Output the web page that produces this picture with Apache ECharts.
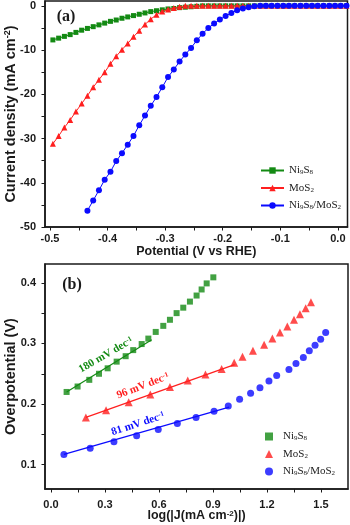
<!DOCTYPE html>
<html>
<head>
<meta charset="utf-8">
<title>LSV and Tafel</title>
<script src="https://cdn.jsdelivr.net/npm/echarts@6/dist/echarts.min.js"></script>
<style>
  html, body { margin: 0; padding: 0; background: #fff; }
  #main { width: 350px; height: 525px; }
</style>
</head>
<body>
<div id="main"></div>
<script>
// ---- (a) polarization curves ----
var lsvPotential = [-0.495,-0.485,-0.475,-0.465,-0.455,-0.445,-0.435,-0.425,-0.415,-0.405,
  -0.395,-0.385,-0.375,-0.365,-0.355,-0.345,-0.335,-0.325,-0.315,-0.305,
  -0.295,-0.285,-0.275,-0.265,-0.255,-0.245,-0.235,-0.225,-0.215,-0.205,
  -0.195,-0.185,-0.175,-0.165,-0.155,-0.145,-0.135,-0.125,-0.115,-0.105,
  -0.095,-0.085,-0.075,-0.065,-0.055,-0.045,-0.035,-0.025,-0.015,-0.005,0.005,0.015];
var ni9s8Current = [-7.7,-7.3,-6.9,-6.5,-6.0,-5.5,-5.1,-4.7,-4.3,-3.9,
  -3.5,-3.2,-2.8,-2.5,-2.2,-1.9,-1.6,-1.3,-1.1,-0.9,
  -0.7,-0.6,-0.4,-0.3,-0.2,-0.1,0,0,0,0,
  0,0,0,0,0,0,0,0,0,0,
  0,0,0,0,0,0,0,0,0,0,0,0];
var mos2Current = [-31.2,-29.4,-27.5,-25.8,-23.9,-22.1,-20.3,-18.4,-16.7,-15.0,
  -13.1,-11.4,-9.9,-8.5,-7.0,-5.6,-4.2,-3.0,-2.0,-1.3,
  -0.8,-0.5,-0.2,0,0,0,0,0,0,0,
  0,0,0,0,0,0,0,0,0,0,
  0,0,0,0,0,0,0,0,0,0,0,0];
var hybridPotential = [-0.435,-0.425,-0.415,-0.405,-0.395,-0.385,-0.375,-0.365,-0.355,-0.345,
  -0.335,-0.325,-0.315,-0.305,-0.295,-0.285,-0.275,-0.265,-0.255,-0.245,
  -0.235,-0.225,-0.215,-0.205,-0.195,-0.185,-0.175,-0.165,-0.155,-0.145,
  -0.135,-0.125,-0.115,-0.105,-0.095,-0.085,-0.075,-0.065,-0.055,-0.045,
  -0.035,-0.025,-0.015,-0.005,0.005,0.015];
var hybridCurrent = [-46.3,-44.0,-41.7,-39.3,-37.5,-35.1,-33.3,-31.4,-29.4,-27.0,
  -24.8,-22.6,-20.6,-18.4,-16.1,-14.4,-12.6,-11.0,-9.5,-7.8,
  -6.3,-5.0,-4.0,-3.1,-2.3,-1.6,-1.0,-0.6,-0.3,-0.1,
  0,0,0,0,0,0,0,0,0,0,
  0,0,0,0,0,0];

var potentialTicks = [-0.5,-0.45,-0.4,-0.35,-0.3,-0.25,-0.2,-0.15,-0.1,-0.05,0];
var potentialLabels = [-0.5,-0.4,-0.3,-0.2,-0.1,0];
var currentTicks = [-50,-45,-40,-35,-30,-25,-20,-15,-10,-5,0];
var currentLabels = [-50,-40,-30,-20,-10,0];

// ---- (b) Tafel plots ----
var ni9s8LogJ = [0.087,0.148,0.213,0.267,0.315,0.365,0.415,0.457,0.504,0.541,
  0.582,0.624,0.661,0.698,0.735,0.772,0.809,0.837,0.865,0.902];
var ni9s8Eta = [0.220,0.229,0.240,0.250,0.259,0.270,0.279,0.289,0.299,0.308,
  0.319,0.329,0.339,0.350,0.359,0.369,0.379,0.389,0.399,0.409];
var mos2LogJ = [0.194,0.306,0.432,0.552,0.661,0.760,0.858,0.948,1.018,1.064,
  1.122,1.184,1.230,1.272,1.313,1.350,1.383,1.415,1.444];
var mos2Eta = [0.178,0.190,0.203,0.216,0.228,0.239,0.249,0.258,0.268,0.278,
  0.288,0.298,0.308,0.318,0.328,0.339,0.348,0.358,0.368];
var hybridLogJ = [0.072,0.218,0.350,0.476,0.596,0.702,0.806,0.906,0.985,1.048,
  1.109,1.161,1.211,1.254,1.322,1.361,1.402,1.435,1.467,1.498,1.526];
var hybridEta = [0.117,0.127,0.138,0.148,0.158,0.168,0.178,0.188,0.197,0.208,
  0.218,0.227,0.238,0.247,0.257,0.267,0.277,0.288,0.297,0.307,0.318];

// linear fits (end points)
var ni9s8Fit = [[0.087,0.220],[0.560,0.306]];
var mos2Fit = [[0.194,0.178],[1.020,0.265]];
var hybridFit = [[0.072,0.117],[0.990,0.195]];

var logTicks = [0,0.15,0.3,0.45,0.6,0.75,0.9,1.05,1.2,1.35,1.5];
var logLabels = [0,0.3,0.6,0.9,1.2,1.5];
var etaTicks = [0.1,0.15,0.2,0.25,0.3,0.35,0.4];
var etaLabels = [0.1,0.2,0.3,0.4];

var GREEN = '#138a13', RED = '#ff1f1f', BLUE = '#0b0bff', INK = '#1a1a1a';
var SANS = "'Liberation Sans', Arial, sans-serif";
var SERIF = "'Liberation Serif', 'Times New Roman', serif";

function zip(xs, ys) {
  return xs.map(function (x, i) { return [x, ys[i]]; });
}

function makeAxis(o) {
  var fs = o.nameSize || 12;
  return {
    type: 'value', gridIndex: o.grid, min: o.min, max: o.max,
    name: o.name, nameLocation: 'middle', nameGap: o.nameGap,
    nameRotate: o.rotate, nameMoveOverlap: false,
    nameTextStyle: {
      fontFamily: SANS, fontWeight: 'bold', fontSize: fs, color: INK,
      rich: {
        t: { fontFamily: SANS, fontWeight: 'bold', fontSize: fs, color: INK },
        sup: { fontFamily: SANS, fontWeight: 'bold', fontSize: Math.round(fs * 0.65), color: INK, verticalAlign: 'top' }
      }
    },
    axisLine: { onZero: false, lineStyle: { color: INK, width: 1.5 } },
    axisTick: { show: true, inside: false, length: 3.5, customValues: o.ticks,
      lineStyle: { color: INK, width: 1 } },
    axisLabel: { customValues: o.labels, margin: o.margin, fontFamily: SANS,
      fontWeight: 'bold', fontSize: 11, color: INK, formatter: o.fmt },
    splitLine: { show: false }
  };
}

var legendNames = {
  'Ni9S8': '{m|Ni}{s|9}{m|S}{s|8}',
  'MoS2': '{m|MoS}{s|2}',
  'Ni9S8/MoS2': '{m|Ni}{s|9}{m|S}{s|8}{m|/MoS}{s|2}'
};
var legendText = {
  fontFamily: SERIF, fontSize: 11, color: INK,
  rich: {
    p: { width: 5, fontSize: 11 },
    m: { fontFamily: SERIF, fontSize: 11, color: INK },
    s: { fontFamily: SERIF, fontSize: 7, color: INK, verticalAlign: 'bottom' }
  }
};
function legendFmtA(name) {
  return legendNames[name];
}
function legendFmtB(name) {
  return '{p| }' + legendNames[name.replace(' (b)', '')];
}

function slopeText(x, y, deg, value, color) {
  return {
    type: 'text', x: x, y: y, rotation: deg * Math.PI / 180, z: 10,
    style: {
      text: '{v|' + value + ' mV dec}{sup|-1}',
      align: 'center', verticalAlign: 'middle',
      rich: {
        v: { fontFamily: SERIF, fontWeight: 'bold', fontSize: 11, fill: color, color: color },
        sup: { fontFamily: SERIF, fontWeight: 'bold', fontSize: 7, fill: color, color: color, verticalAlign: 'top' }
      }
    }
  };
}

var chart = echarts.init(document.getElementById('main'), null, { renderer: 'canvas' });

var option = {
  animation: false,
  backgroundColor: '#fff',
  grid: [
    { left: 45, top: 1, width: 302.5, height: 226, show: true, borderColor: INK, borderWidth: 1.5,
      outerBoundsMode: 'none', containLabel: false },
    { left: 45, top: 264, width: 303, height: 225, show: true, borderColor: INK, borderWidth: 1.5,
      outerBoundsMode: 'none', containLabel: false }
  ],
  xAxis: [
    makeAxis({ grid: 0, min: -0.5087, max: 0.0167, name: 'Potential (V vs RHE)', nameGap: 18,
      nameSize: 12.5, ticks: potentialTicks, labels: potentialLabels, margin: 6,
      fmt: function (v) { return v.toFixed(1); } }),
    makeAxis({ grid: 1, min: -0.033, max: 1.65, name: '{t|log(|J(mA cm}{sup|-2}{t|)|)}', nameGap: 20.5,
      nameSize: 12.5, ticks: logTicks, labels: logLabels, margin: 10,
      fmt: function (v) { return v.toFixed(1); } })
  ],
  yAxis: [
    makeAxis({ grid: 0, min: -50, max: 1.1, name: '{t|Current density (mA cm}{sup|-2}{t|)}', nameGap: 27,
      nameSize: 14.5, rotate: 90, ticks: currentTicks, labels: currentLabels, margin: 9,
      fmt: function (v) { return String(Math.round(v)); } }),
    makeAxis({ grid: 1, min: 0.06, max: 0.431, name: 'Overpotential (V)', nameGap: 27,
      nameSize: 14.5, rotate: 90, ticks: etaTicks, labels: etaLabels, margin: 9,
      fmt: function (v) { return v.toFixed(1); } })
  ],
  legend: [
    { data: ['Ni9S8', 'MoS2', 'Ni9S8/MoS2'], orient: 'vertical', left: 260, top: 165, padding: 0,
      itemWidth: 23, itemHeight: 8, itemGap: 6.5, formatter: legendFmtA, textStyle: legendText,
      selectedMode: false },
    { data: ['Ni9S8 (b)', 'MoS2 (b)', 'Ni9S8/MoS2 (b)'], orient: 'vertical', left: 265, top: 431, padding: 0,
      itemWidth: 8, itemHeight: 8, itemGap: 6.5, formatter: legendFmtB, textStyle: legendText,
      selectedMode: false }
  ],
  series: [
    { name: 'Ni9S8', type: 'line', xAxisIndex: 0, yAxisIndex: 0, data: zip(lsvPotential, ni9s8Current),
      symbol: 'rect', symbolSize: 5, color: GREEN, lineStyle: { width: 1 }, z: 3 },
    { name: 'MoS2', type: 'line', xAxisIndex: 0, yAxisIndex: 0, data: zip(lsvPotential, mos2Current),
      symbol: 'triangle', symbolSize: 6, color: RED, lineStyle: { width: 1 }, z: 4 },
    { name: 'Ni9S8/MoS2', type: 'line', xAxisIndex: 0, yAxisIndex: 0, data: zip(hybridPotential, hybridCurrent),
      symbol: 'circle', symbolSize: 6, color: BLUE, lineStyle: { width: 1 }, z: 5 },

    { name: 'Ni9S8 (b)', type: 'scatter', xAxisIndex: 1, yAxisIndex: 1, data: zip(ni9s8LogJ, ni9s8Eta),
      symbol: 'rect', symbolSize: 6, color: GREEN },
    { name: 'MoS2 (b)', type: 'scatter', xAxisIndex: 1, yAxisIndex: 1, data: zip(mos2LogJ, mos2Eta),
      symbol: 'triangle', symbolSize: 8, color: RED },
    { name: 'Ni9S8/MoS2 (b)', type: 'scatter', xAxisIndex: 1, yAxisIndex: 1, data: zip(hybridLogJ, hybridEta),
      symbol: 'circle', symbolSize: 7, color: BLUE },
    { name: 'fit1', type: 'line', xAxisIndex: 1, yAxisIndex: 1, data: ni9s8Fit, showSymbol: false,
      color: GREEN, lineStyle: { width: 1.2 } },
    { name: 'fit2', type: 'line', xAxisIndex: 1, yAxisIndex: 1, data: mos2Fit, showSymbol: false,
      color: RED, lineStyle: { width: 1.2 } },
    { name: 'fit3', type: 'line', xAxisIndex: 1, yAxisIndex: 1, data: hybridFit, showSymbol: false,
      color: BLUE, lineStyle: { width: 1.2 } }
  ],
  graphic: [
    { type: 'text', x: 66, y: 17, style: { text: '(a)', font: 'bold 16px ' + SERIF, fill: INK,
      align: 'center', verticalAlign: 'middle' } },
    { type: 'text', x: 72, y: 285, style: { text: '(b)', font: 'bold 16px ' + SERIF, fill: INK,
      align: 'center', verticalAlign: 'middle' } },
    slopeText(106, 355, 30, '180', GREEN),
    slopeText(143, 386, 21, '96', RED),
    slopeText(138, 424, 18, '81', BLUE)
  ]
};

chart.setOption(option);
</script>
</body>
</html>
